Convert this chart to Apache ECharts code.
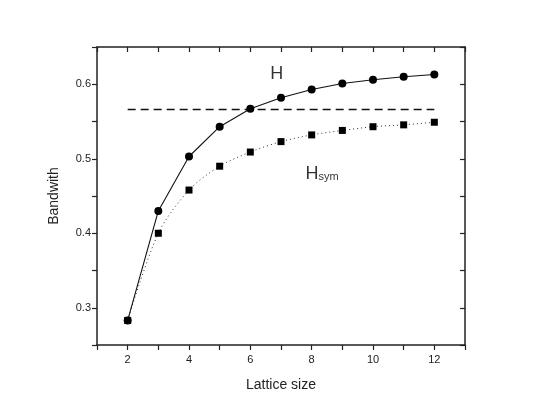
<!DOCTYPE html>
<html><head><meta charset="utf-8">
<script src="https://cdn.jsdelivr.net/npm/echarts@6/dist/echarts.min.js"></script>
<style>html,body{margin:0;padding:0;background:#fff}#c{width:540px;height:414px}</style>
</head><body><div id="c"></div>
<script>
var latticeSize = [2,3,4,5,6,7,8,9,10,11,12];
var bandwidthH = [0.283,0.430,0.503,0.543,0.567,0.582,0.593,0.601,0.606,0.610,0.613];
var bandwidthHsym = [0.283,0.400,0.458,0.490,0.509,0.523,0.532,0.538,0.543,0.5455,0.549];
var refLevel = 0.566;
var refRange = [2,12];
var labelH = {name:'H', pos:[6.86,0.614]};
var labelHsym = {name:'H', sub:'sym', pos:[8.05,0.486]};

var FONT = 'Liberation Sans, Arial, sans-serif';
var axCol = '#222';
function xAxisCfg(pos, show){
  return {type:'value', position:pos, min:1, max:13, interval:1,
    axisLine:{show:true,onZero:false,lineStyle:{color:axCol,width:1.5}},
    axisTick:{show:true,inside:pos==='top',length:5,lineStyle:{color:axCol,width:1.2}},
    splitLine:{show:false},
    axisLabel:{show:show,color:'#222',fontFamily:FONT,fontSize:11,margin:9,
      formatter:function(v){return (Math.round(v)%2===0)?String(Math.round(v)):'';}},
    name: show?'Lattice size':'', nameLocation:'middle', nameGap:33,
    nameTextStyle:{fontFamily:FONT,fontSize:14,color:'#222'}};
}
function yAxisCfg(pos, show){
  return {type:'value', position:pos, min:0.25, max:0.65, interval:0.05,
    axisLine:{show:true,onZero:false,lineStyle:{color:axCol,width:1.5}},
    axisTick:{show:true,inside:pos==='right',length:5,lineStyle:{color:axCol,width:1.2}},
    splitLine:{show:false},
    axisLabel:{show:show,color:'#222',fontFamily:FONT,fontSize:11,margin:6,
      formatter:function(v){var r=Math.round(v*100);return (r%10===0)?(r/100).toFixed(1):'';}},
    name: show?'Bandwith':'', nameLocation:'middle', nameGap:36, nameRotate:90,
    nameTextStyle:{fontFamily:FONT,fontSize:14,color:'#222'}};
}
function zip(xs, ys){return xs.map(function(x,i){return [x,ys[i]];});}

var chart = echarts.init(document.getElementById('c'), null, {renderer:'canvas'});
chart.setOption({
  animation:false,
  backgroundColor:'#fff',
  grid:{left:97,top:47,right:75,bottom:69,containLabel:false},
  xAxis:[xAxisCfg('bottom',true), xAxisCfg('top',false)],
  yAxis:[yAxisCfg('left',true), yAxisCfg('right',false)],
  series:[
    {type:'line', data:[[refRange[0],refLevel],[refRange[1],refLevel]], symbol:'none',
      lineStyle:{color:'#111',width:1.5,type:[8,5]}},
    {type:'line', data:zip(latticeSize,bandwidthHsym), symbol:'rect', symbolSize:7, smooth:0.3,
      itemStyle:{color:'#000'}, lineStyle:{color:'#333',width:1,type:[1,3]}},
    {type:'line', data:zip(latticeSize,bandwidthH), symbol:'circle', symbolSize:8,
      itemStyle:{color:'#000'}, lineStyle:{color:'#111',width:1.1}},
    {type:'scatter', symbolSize:0, silent:true,
      data:[
        {value:labelH.pos, label:{show:true, position:'inside', formatter:'{a|'+labelH.name+'}', rich:{a:{fontFamily:FONT,fontSize:18,color:'#000'}}}},
        {value:labelHsym.pos, label:{show:true, position:'inside', offset:[9,-1], formatter:'{a|'+labelHsym.name+'}{b|'+labelHsym.sub+'}',
          rich:{a:{fontFamily:FONT,fontSize:18,color:'#000',verticalAlign:'bottom'},b:{fontFamily:FONT,fontSize:11,color:'#000',verticalAlign:'bottom',padding:[18,0,0,0]}}}}
      ]}
  ]
});
</script></body></html>
